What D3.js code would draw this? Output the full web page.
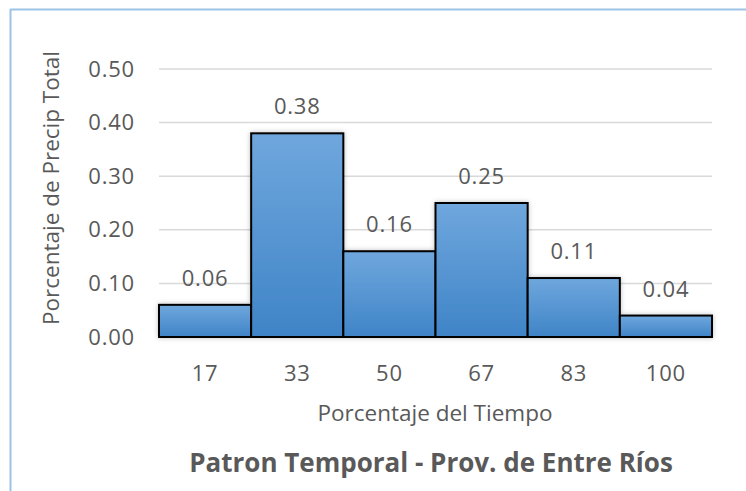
<!DOCTYPE html>
<html>
<head>
<meta charset="utf-8">
<script src="https://d3js.org/d3.v7.min.js"></script>
<style>
  body { margin:0; background:#fff; }
  svg text { font-family: "Open Sans", "Noto Sans", sans-serif; fill:#595959; }
</style>
</head>
<body>
<div id="chart"></div>
<script>
// data
var categories = ["17", "33", "50", "67", "83", "100"];
var values = [0.06, 0.38, 0.16, 0.25, 0.11, 0.04];
var yTicks = [0, 0.1, 0.2, 0.3, 0.4, 0.5];
var title = "Patron Temporal - Prov. de Entre Ríos";
var xTitle = "Porcentaje del Tiempo";
var yTitle = "Porcentaje de Precip Total";

const width = 746, height = 491;
const padL = 159, padR = 712, padT = 69, padB = 337;

const svg = d3.select("#chart").append("svg")
  .attr("width", width)
  .attr("height", height);

const defs = svg.append("defs");
const grad = defs.append("linearGradient")
  .attr("id", "barGrad")
  .attr("x1", 0).attr("y1", 0).attr("x2", 0).attr("y2", 1);
grad.append("stop").attr("offset", "0%").attr("stop-color", "#6fa7dd");
grad.append("stop").attr("offset", "100%").attr("stop-color", "#3f84c7");

const shadow = defs.append("filter").attr("id", "shadow")
  .attr("x", "-10%").attr("y", "-10%").attr("width", "120%").attr("height", "120%");
shadow.append("feDropShadow")
  .attr("dx", 0).attr("dy", 0).attr("stdDeviation", 2.5)
  .attr("flood-color", "#000").attr("flood-opacity", 0.25);

// frame (only top and left edge show)
svg.append("line").attr("x1", 10.5).attr("x2", 10.5).attr("y1", 9).attr("y2", height)
  .attr("stroke", "#9dc3e6").attr("stroke-width", 2);
svg.append("line").attr("x1", 10).attr("x2", width).attr("y1", 9.5).attr("y2", 9.5)
  .attr("stroke", "#9dc3e6").attr("stroke-width", 2);

const x = d3.scaleBand().domain(categories).range([padL, padR]).padding(0);
const y = d3.scaleLinear().domain([0, 0.5]).range([padB, padT]);

// gridlines
svg.append("g").selectAll("line")
  .data(yTicks)
  .enter().append("line")
  .attr("x1", padL).attr("x2", padR)
  .attr("y1", d => y(d)).attr("y2", d => y(d))
  .attr("stroke", "#d9d9d9").attr("stroke-width", 1.5);

// y axis labels
const yAxis = d3.axisLeft(y).tickValues(yTicks).tickFormat(d3.format(".2f")).tickSize(0).tickPadding(24);
const gy = svg.append("g").attr("transform", "translate(" + padL + ",0)").call(yAxis);
gy.select(".domain").remove();
gy.selectAll("text")
  .style("font-size", "22px").style("letter-spacing", "0.8px")
  .attr("fill", "#595959");

// x axis labels
const xAxis = d3.axisBottom(x).tickSize(0).tickPadding(28);
const gx = svg.append("g").attr("transform", "translate(0," + padB + ")").call(xAxis);
gx.select(".domain").remove();
gx.selectAll("text")
  .style("font-size", "22px").style("letter-spacing", "0.8px")
  .attr("fill", "#595959");

// bars
const data = categories.map((c, i) => ({cat: c, val: values[i]}));
svg.append("g").attr("filter", "url(#shadow)")
  .selectAll("rect")
  .data(data)
  .enter().append("rect")
  .attr("x", d => x(d.cat))
  .attr("y", d => y(d.val))
  .attr("width", x.bandwidth())
  .attr("height", d => y(0) - y(d.val))
  .attr("fill", "url(#barGrad)")
  .attr("stroke", "#000")
  .attr("stroke-width", 2);

// value labels
svg.append("g").selectAll("text")
  .data(data)
  .enter().append("text")
  .attr("x", d => x(d.cat) + x.bandwidth() / 2)
  .attr("y", d => y(d.val) - 28)
  .attr("text-anchor", "middle")
  .attr("dominant-baseline", "central")
  .style("font-size", "22px").style("letter-spacing", "0.8px")
  .text(d => d.val.toFixed(2));

// axis titles
svg.append("text")
  .attr("x", 435)
  .attr("y", 412)
  .attr("text-anchor", "middle")
  .attr("dominant-baseline", "central")
  .style("font-size", "22.5px")
  .text(xTitle);

svg.append("text")
  .attr("transform", "translate(50," + ((padT + padB) / 2 - 15) + ") rotate(-90)")
  .attr("text-anchor", "middle")
  .attr("dominant-baseline", "central")
  .style("font-size", "22.5px")
  .text(yTitle);

// chart title
svg.append("text")
  .attr("x", 431)
  .attr("y", 462)
  .attr("text-anchor", "middle")
  .attr("dominant-baseline", "central")
  .style("font-size", "26px")
  .style("font-weight", "bold")
  .text(title);
</script>
</body>
</html>
